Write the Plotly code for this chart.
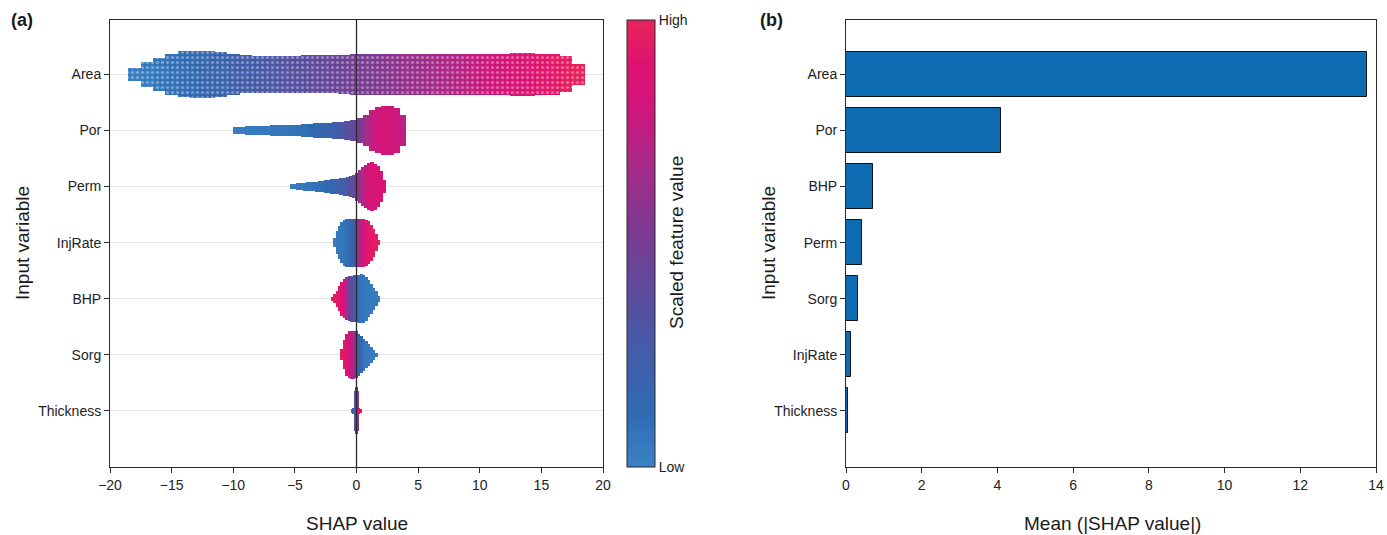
import plotly.graph_objects as go

# ---------------- data ----------------
features = ["Area", "Por", "Perm", "InjRate", "BHP", "Sorg", "Thickness"]
row_pos = [7, 6, 5, 4, 3, 2, 1]

# Beeswarm envelopes: bin centre (SHAP value), half-height of swarm (row units), mean scaled feature value
area_x = [-18, -17, -16, -15, -14, -13, -12, -11, -10, -9, -8, -7, -6, -5, -4, -3, -2, -1, 0,
          1, 2, 3, 4, 5, 6, 7, 8, 9, 10, 11, 12, 13, 14, 15, 16, 17, 18]
area_hw = [0.12, 0.22, 0.30, 0.37, 0.41, 0.42, 0.42, 0.40, 0.37, 0.34, 0.33, 0.33, 0.33, 0.33,
           0.34, 0.34, 0.34, 0.35, 0.36, 0.36, 0.36, 0.36, 0.36, 0.36, 0.36, 0.36, 0.37, 0.37,
           0.37, 0.37, 0.37, 0.38, 0.38, 0.37, 0.36, 0.32, 0.18]
area_c = [0.02, 0.04, 0.06, 0.09, 0.11, 0.14, 0.17, 0.19, 0.22, 0.25, 0.27, 0.30, 0.33, 0.35,
          0.38, 0.41, 0.44, 0.47, 0.50, 0.52, 0.55, 0.58, 0.61, 0.63, 0.66, 0.69, 0.71, 0.74,
          0.77, 0.80, 0.82, 0.85, 0.88, 0.91, 0.93, 0.96, 0.98]

por_x = [-9.75, -9.25, -8.75, -8.25, -7.75, -7.25, -6.75, -6.25, -5.75, -5.25, -4.75, -4.25,
         -3.75, -3.25, -2.75, -2.25, -1.75, -1.25, -0.75, -0.25, 0.25, 0.75, 1.25, 1.75, 2.25,
         2.75, 3.25, 3.75]
por_hw = [0.06, 0.07, 0.075, 0.08, 0.08, 0.085, 0.09, 0.09, 0.095, 0.095, 0.10, 0.11, 0.12,
          0.13, 0.14, 0.14, 0.15, 0.16, 0.17, 0.19, 0.22, 0.28, 0.36, 0.41, 0.43, 0.43, 0.40, 0.27]
por_c = [0.03, 0.03, 0.04, 0.04, 0.05, 0.05, 0.06, 0.06, 0.07, 0.08, 0.09, 0.10, 0.12, 0.14,
         0.17, 0.20, 0.24, 0.29, 0.35, 0.42, 0.52, 0.65, 0.76, 0.80, 0.82, 0.81, 0.78, 0.74]

perm_x = [-5.25, -5.0, -4.75, -4.5, -4.25, -4.0, -3.75, -3.5, -3.25, -3.0, -2.75, -2.5, -2.25,
          -2.0, -1.75, -1.5, -1.25, -1.0, -0.75, -0.5, -0.25, 0.0, 0.25, 0.5, 0.75, 1.0, 1.25,
          1.5, 1.75, 2.0, 2.25]
perm_hw = [0.04, 0.05, 0.06, 0.065, 0.07, 0.075, 0.08, 0.085, 0.09, 0.10, 0.105, 0.11, 0.12,
           0.13, 0.135, 0.14, 0.15, 0.16, 0.17, 0.18, 0.21, 0.25, 0.30, 0.35, 0.39, 0.42, 0.43,
           0.41, 0.36, 0.28, 0.12]
perm_c = [0.03, 0.04, 0.05, 0.05, 0.06, 0.07, 0.07, 0.08, 0.09, 0.10, 0.11, 0.12, 0.14, 0.16,
          0.18, 0.21, 0.24, 0.28, 0.32, 0.37, 0.43, 0.52, 0.62, 0.70, 0.77, 0.82, 0.84, 0.85,
          0.86, 0.86, 0.85]

injrate_x = [-1.8, -1.6, -1.4, -1.2, -1.0, -0.8, -0.6, -0.4, -0.2, 0.0, 0.2, 0.4, 0.6, 0.8,
             1.0, 1.2, 1.4, 1.6, 1.8]
injrate_hw = [0.08, 0.20, 0.30, 0.37, 0.41, 0.43, 0.43, 0.43, 0.43, 0.43, 0.43, 0.43, 0.43,
              0.41, 0.38, 0.32, 0.25, 0.15, 0.05]
injrate_c = [0.04, 0.05, 0.05, 0.06, 0.07, 0.09, 0.12, 0.20, 0.32, 0.48, 0.62, 0.75, 0.84,
             0.90, 0.93, 0.94, 0.95, 0.95, 0.95]

bhp_x = [-2.0, -1.8, -1.6, -1.4, -1.2, -1.0, -0.8, -0.6, -0.4, -0.2, 0.0, 0.2, 0.4, 0.6, 0.8,
         1.0, 1.2, 1.4, 1.6, 1.8]
bhp_hw = [0.04, 0.08, 0.14, 0.22, 0.30, 0.35, 0.38, 0.40, 0.41, 0.42, 0.42, 0.43, 0.44, 0.43,
          0.39, 0.33, 0.27, 0.20, 0.13, 0.05]
bhp_c = [0.95, 0.95, 0.94, 0.92, 0.88, 0.80, 0.68, 0.52, 0.38, 0.25, 0.15, 0.10, 0.07, 0.06,
         0.05, 0.05, 0.04, 0.04, 0.04, 0.04]

sorg_x = [-1.2, -1.0, -0.8, -0.6, -0.4, -0.2, 0.0, 0.2, 0.4, 0.6, 0.8, 1.0, 1.2, 1.4, 1.6]
sorg_hw = [0.10, 0.26, 0.37, 0.42, 0.43, 0.43, 0.42, 0.38, 0.33, 0.28, 0.24, 0.20, 0.14, 0.09, 0.04]
sorg_c = [0.95, 0.93, 0.90, 0.85, 0.75, 0.60, 0.42, 0.25, 0.12, 0.07, 0.05, 0.05, 0.04, 0.04, 0.04]

thick_x = [-0.35, -0.25, -0.15, -0.05, 0.05, 0.15, 0.25, 0.35]
thick_hw = [0.04, 0.06, 0.36, 0.42, 0.42, 0.36, 0.06, 0.04]
thick_c = [0.10, 0.20, 0.35, 0.45, 0.50, 0.60, 0.90, 0.90]

bin_width = [1.0, 0.5, 0.25, 0.2, 0.2, 0.2, 0.1]
swarm_x = [area_x, por_x, perm_x, injrate_x, bhp_x, sorg_x, thick_x]
swarm_hw = [area_hw, por_hw, perm_hw, injrate_hw, bhp_hw, sorg_hw, thick_hw]
swarm_c = [area_c, por_c, perm_c, injrate_c, bhp_c, sorg_c, thick_c]

# Panel (b): mean |SHAP|
bar_features = ["Area", "Por", "BHP", "Perm", "Sorg", "InjRate", "Thickness"]
bar_pos = [7, 6, 5, 4, 3, 2, 1]
mean_abs_shap = [13.77, 4.09, 0.70, 0.41, 0.32, 0.14, 0.055]

shap_ticks = [-20, -15, -10, -5, 0, 5, 10, 15, 20]
mean_ticks = [0, 2, 4, 6, 8, 10, 12, 14]

# ---------------- styling ----------------
W, H = 1387, 535
FONT = "Arial, Liberation Sans, sans-serif"
AXC = "#2a2a2a"
colorscale = [
    [0.00, "#3a82c6"], [0.12, "#2f6bb3"], [0.30, "#4a58a5"], [0.45, "#6a4498"],
    [0.55, "#823790"], [0.68, "#a82a88"], [0.80, "#d0157c"], [0.90, "#df1370"],
    [1.00, "#e8245a"],
]

def px_x(p):
    return p / W

def px_y(p):
    return 1 - p / H

fig = go.Figure()

for name, pos, xs, hws, cs, bw in zip(features, row_pos, swarm_x, swarm_hw, swarm_c, bin_width):
    marker = dict(color=cs, coloraxis="coloraxis", line=dict(width=0))
    if name == "Area":
        marker["pattern"] = dict(shape=".", fillmode="overlay", fgcolor="white",
                                 fgopacity=0.35, size=5, solidity=0.3)
    fig.add_trace(go.Bar(
        x=xs,
        y=[2 * h for h in hws],
        base=[pos - h for h in hws],
        width=bw * 1.04,
        marker=marker,
        name=name, showlegend=False,
        xaxis="x", yaxis="y",
    ))

fig.add_trace(go.Bar(
    x=mean_abs_shap, y=bar_pos,
    orientation="h", width=0.8,
    marker=dict(color="#0d6bb1", line=dict(color="#111111", width=1)),
    showlegend=False, xaxis="x2", yaxis="y2",
))

ydom = [px_y(467), px_y(20)]
axis_common = dict(showline=True, linecolor=AXC, linewidth=1, mirror=True,
                   ticks="outside", ticklen=5, tickcolor=AXC, tickwidth=1, automargin=False,
                   ticklabeloverflow="allow",
                   tickfont=dict(family=FONT, size=14, color="#222"), zeroline=False)

fig.update_layout(
    width=W, height=H, margin=dict(l=0, r=0, t=0, b=0, autoexpand=False),
    paper_bgcolor="white", plot_bgcolor="white",
    barmode="overlay", bargap=0,
    font=dict(family=FONT, color="#222"),
    xaxis=dict(domain=[px_x(110), px_x(603)], range=[-20, 20], tickvals=shap_ticks,
               showgrid=False, anchor="y", **axis_common),
    yaxis=dict(domain=ydom, range=[0, 7.97], tickvals=row_pos, ticktext=features,
               showgrid=True, gridcolor="#e4e4e4", gridwidth=1, anchor="x", **axis_common),
    xaxis2=dict(domain=[px_x(846), px_x(1376)], range=[0, 14], tickvals=mean_ticks,
                showgrid=False, anchor="y2", **axis_common),
    yaxis2=dict(domain=ydom, range=[0, 7.97], tickvals=bar_pos, ticktext=bar_features,
                showgrid=False, anchor="x2", **axis_common),
    coloraxis=dict(
        colorscale=colorscale, cmin=0, cmax=1,
        colorbar=dict(
            x=px_x(627), xanchor="left", xpad=0, ypad=0,
            y=px_y(467), yanchor="bottom", len=(467 - 20) / H, lenmode="fraction",
            thickness=28, thicknessmode="pixels",
            outlinewidth=1, outlinecolor=AXC,
            tickvals=[0, 1], ticktext=["Low", "High"], ticks="",
            tickfont=dict(family=FONT, size=14, color="#222"),
        ),
    ),
)

fig.add_shape(type="line", xref="x", yref="y domain", x0=0, x1=0, y0=0, y1=1,
              line=dict(color=AXC, width=1.3), layer="above")

def ann(text, x, y, size, angle=0, bold=False, xanchor="center"):
    fig.add_annotation(text=f"<b>{text}</b>" if bold else text, x=x, y=y,
                       xref="paper", yref="paper", showarrow=False, textangle=angle,
                       xanchor=xanchor, yanchor="middle",
                       font=dict(family=FONT, size=size, color="#1a1a1a"))

ann("SHAP value", px_x(357), px_y(523), 19)
ann("Mean (|SHAP value|)", px_x(1112), px_y(523), 19)
ann("Input variable", px_x(22), px_y(243), 19, angle=-90)
ann("Input variable", px_x(768), px_y(243), 19, angle=-90)
ann("Scaled feature value", px_x(676), px_y(243), 19, angle=-90)
ann("(a)", px_x(9), px_y(20), 18, bold=True, xanchor="left")
ann("(b)", px_x(758), px_y(20), 18, bold=True, xanchor="left")

fig.write_html("out.html")
